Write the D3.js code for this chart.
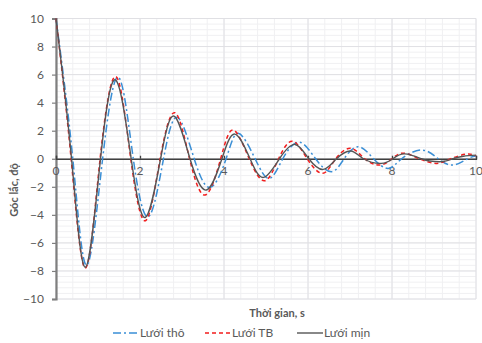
<!DOCTYPE html>
<html><head><meta charset="utf-8">
<script src="https://cdn.jsdelivr.net/npm/d3@7"></script>
<style>body{margin:0;background:#fff}svg{display:block}text{font-family:Lato,"Open Sans",sans-serif}</style>
</head><body><svg id="c" width="482" height="343"></svg>
<script>
// data
const tTho = [0,0.40,0.73,1.11,1.49,1.84,2.2,2.56,2.89,3.29,3.67,4.05,4.34,4.74,5.08,5.4,5.79,6.18,6.56,6.86,7.2,7.56,7.91,8.23,8.71,9.1,9.46,9.8,10];
const vTho = [10,0,-7.6,0,5.8,0,-4.13,0,2.95,0,-2.04,0,1.81,0,-1.4,0,1.18,0,-0.92,0,0.86,0,-0.69,0,0.62,0,-0.45,0,0.19];
const tTB = [0,0.36,0.70,1.05,1.43,1.78,2.13,2.48,2.83,3.18,3.55,3.92,4.22,4.6,4.97,5.3,5.63,5.98,6.35,6.66,7.02,7.35,7.71,8.0,8.27,8.65,9.06,9.4,9.78,10];
const vTB = [10,0,-7.8,0,5.85,0,-4.42,0,3.28,0,-2.59,0,2.05,0,-1.57,0,1.25,0,-1.04,0,0.74,0,-0.45,0,0.4,0,-0.33,0,0.33,0.2];
const tMin = [0,0.37,0.70,1.06,1.42,1.79,2.13,2.49,2.81,3.19,3.58,3.95,4.26,4.62,4.94,5.32,5.69,6.02,6.36,6.68,7.02,7.32,7.74,8.02,8.3,8.7,8.9,9.2,9.45,9.7,10];
const vMin = [10,0,-7.74,0,5.61,0,-4.18,0,3.04,0,-2.23,0,1.76,0,-1.33,0,1.02,0,-0.76,0,0.55,0,-0.33,0,0.35,0,-0.16,-0.2,0,0.18,0.26];
const seriesNames = ["Lưới thô","Lưới TB","Lưới mịn"];
const xTicks = [0,2,4,6,8,10];
const yTicks = [-10,-8,-6,-4,-2,0,2,4,6,8,10];
const xTitle = "Thời gian, s";
const yTitle = "Góc lắc, độ";

const svg = d3.select("#c");
const x = d3.scaleLinear().domain([0,10]).range([56,476]);
const y = d3.scaleLinear().domain([-10,10]).range([299,18.5]);

// grid
const g = svg.append("g");
const minorX = d3.range(0,10.001,0.4), minorY = d3.range(-10,10.001,0.4);
g.selectAll(".mx").data(minorX).enter().append("line")
 .attr("x1",d=>x(d)).attr("x2",d=>x(d)).attr("y1",y(10)).attr("y2",y(-10))
 .attr("stroke","#f0f0f2").attr("stroke-width",1);
g.selectAll(".my").data(minorY).enter().append("line")
 .attr("y1",d=>y(d)).attr("y2",d=>y(d)).attr("x1",x(0)).attr("x2",x(10))
 .attr("stroke","#f0f0f2").attr("stroke-width",1);
g.selectAll(".Mx").data(xTicks).enter().append("line")
 .attr("x1",d=>x(d)).attr("x2",d=>x(d)).attr("y1",y(10)).attr("y2",y(-10))
 .attr("stroke","#e0e0e4").attr("stroke-width",1);
g.selectAll(".My").data(yTicks).enter().append("line")
 .attr("y1",d=>y(d)).attr("y2",d=>y(d)).attr("x1",x(0)).attr("x2",x(10))
 .attr("stroke","#e0e0e4").attr("stroke-width",1);

// y axis
const ya = svg.append("g").attr("transform",`translate(${x(0)},0)`)
 .call(d3.axisLeft(y).tickValues(yTicks).tickSize(4).tickPadding(8));
ya.select(".domain").attr("stroke","#7f7f7f").attr("stroke-width",2.2);
ya.selectAll(".tick line").attr("stroke","#7f7f7f").attr("stroke-width",1.2);
ya.selectAll("text").attr("fill","#595959").style("font-size","12px").style("font-family","Lato,'Open Sans',sans-serif");

// series
const line = d3.line().x(d=>x(d[0])).y(d=>y(d[1])).curve(d3.curveNatural);
const series = [
 {name:seriesNames[0], pts:d3.zip(tTho,vTho), color:"#3a8fd6", dash:"8,3,2,3", w:1.5},
 {name:seriesNames[1], pts:d3.zip(tTB,vTB), color:"#f21d1d", dash:"4,3", w:1.5},
 {name:seriesNames[2], pts:d3.zip(tMin,vMin), color:"#555555", dash:null, w:1.4}
];

// x axis at zero
const xa = svg.append("g").attr("transform",`translate(0,${y(0)})`)
 .call(d3.axisTop(x).tickValues(xTicks).tickSize(3).tickFormat(""));
xa.select(".domain").attr("stroke","#404040").attr("stroke-width",1.3);
xa.selectAll(".tick line").attr("stroke","#404040").attr("stroke-width",1.3);
svg.append("g").selectAll("text").data(xTicks).enter().append("text")
 .attr("x",d=>x(d)).attr("y",y(0)+16).attr("text-anchor","middle")
 .attr("fill","#595959").style("font-size","12px").text(d=>d);

svg.append("g").selectAll("path").data(series).enter().append("path")
 .attr("d",d=>line(d.pts)).attr("fill","none").attr("stroke",d=>d.color)
 .attr("stroke-width",d=>d.w).attr("stroke-dasharray",d=>d.dash);

// titles
svg.append("text").attr("x",277).attr("y",317).attr("text-anchor","middle")
 .attr("fill","#595959").style("font-size","11px").style("font-weight","bold").text(xTitle);
svg.append("text").attr("transform","translate(18,190) rotate(-90)").attr("text-anchor","middle")
 .attr("fill","#595959").style("font-size","11px").style("font-weight","bold").text(yTitle);

// legend
const legX = [113,205,297];
const lg = svg.append("g").selectAll("g").data(series).enter().append("g")
 .attr("transform",(d,i)=>`translate(${legX[i]},337)`);
lg.append("line").attr("x1",0).attr("x2",26).attr("y1",-4).attr("y2",-4)
 .attr("stroke",d=>d.color).attr("stroke-width",d=>d.w).attr("stroke-dasharray",d=>d.dash);
lg.append("text").attr("x",27).attr("y",0).attr("fill","#595959")
 .style("font-size","12px").text(d=>d.name);
</script></body></html>
